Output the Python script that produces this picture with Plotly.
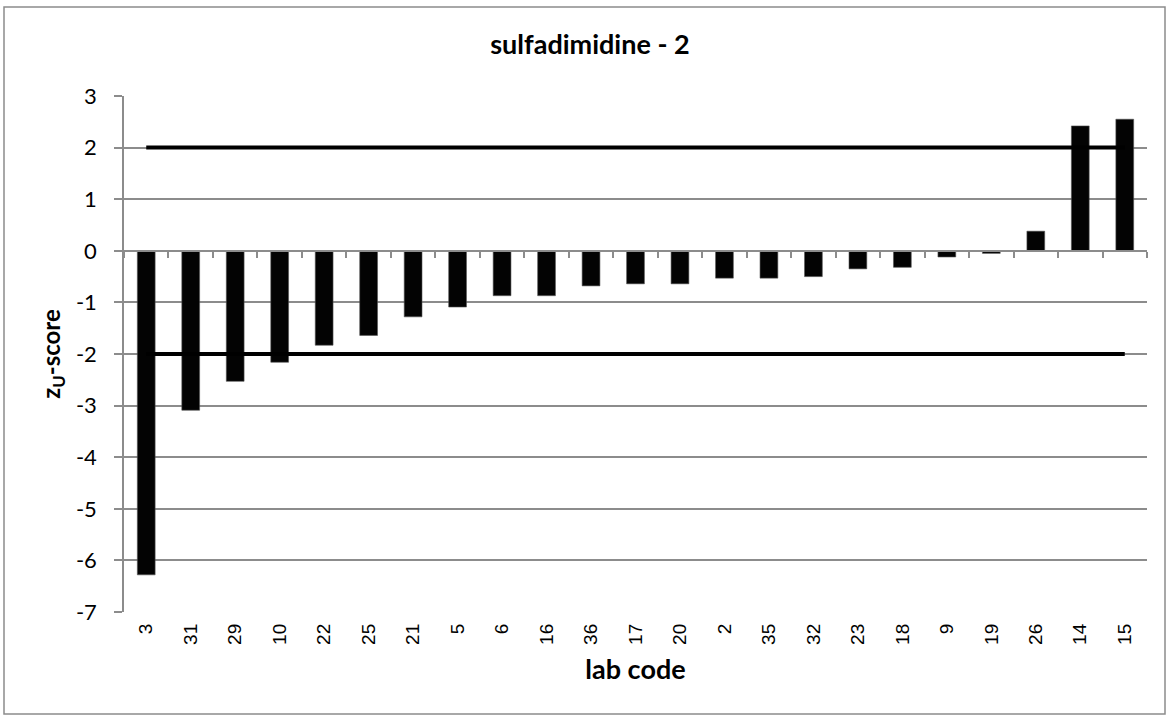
import plotly.graph_objects as go

lab_codes = ["3", "31", "29", "10", "22", "25", "21", "5", "6", "16", "36", "17",
             "20", "2", "35", "32", "23", "18", "9", "19", "26", "14", "15"]
z_scores = [-6.28, -3.09, -2.53, -2.16, -1.83, -1.64, -1.28, -1.09, -0.87, -0.87,
            -0.68, -0.64, -0.64, -0.53, -0.53, -0.50, -0.35, -0.32, -0.12, -0.05,
            0.38, 2.42, 2.55]
upper_limit = [2, 2]
lower_limit = [-2, -2]
y_ticks = [3, 2, 1, 0, -1, -2, -3, -4, -5, -6, -7]
y_tick_text = [str(v) for v in y_ticks]

GRID = "#8c8c8c"
FONT = "Lato"

fig = go.Figure()
fig.add_trace(go.Bar(x=lab_codes, y=z_scores,
                     marker=dict(color="#030303", line=dict(width=0.6, color="#555555")),
                     width=0.4, showlegend=False))
for lim in (upper_limit, lower_limit):
    fig.add_trace(go.Scatter(x=[lab_codes[0], lab_codes[-1]], y=lim, mode="lines",
                             line=dict(color="#000000", width=4), showlegend=False))
# invisible trace to activate the zero-crossing axis
fig.add_trace(go.Scatter(x=lab_codes, y=[0] * len(lab_codes), xaxis="x2", mode="markers",
                         marker=dict(opacity=0), showlegend=False, hoverinfo="skip"))

W, H = 1170, 719
L, R, T, B = 124, 23, 96, 107
pw, ph = W - L - R, H - T - B

fig.update_layout(
    width=W, height=H,
    margin=dict(l=L, r=R, t=T, b=B),
    paper_bgcolor="white", plot_bgcolor="white",
    title=dict(text="<b>sulfadimidine - 2</b>", x=590 / W, xref="container", xanchor="center",
               y=1 - 45 / H, yref="container", yanchor="middle",
               font=dict(family=FONT, size=27, color="#000000")),
    xaxis=dict(type="category", range=[-0.5, len(lab_codes) - 0.5], showgrid=False,
               showline=False, ticks="", tickangle=-90,
               tickfont=dict(family="Liberation Sans", size=19, color="#000000"),
               ticklabelstandoff=7,
               title=dict(text="<b>lab code</b>", font=dict(family=FONT, size=27, color="#000000"),
                          standoff=16)),
    xaxis2=dict(type="category", overlaying="x", matches="x", anchor="free", position=0.7,
                side="bottom", showline=True, linecolor=GRID, linewidth=1.5, ticks="outside",
                ticklen=6, tickcolor=GRID, tickwidth=1.5, tickson="boundaries",
                showticklabels=False, showgrid=False),
    yaxis=dict(range=[-7, 3], tickvals=y_ticks, ticktext=y_tick_text, showgrid=True,
               gridcolor=GRID, gridwidth=1.5, zeroline=False, showline=True, linecolor=GRID,
               linewidth=1.5, ticks="outside", ticklen=8, tickcolor=GRID, tickwidth=1.5,
               tickfont=dict(family=FONT, size=22, color="#000000"), ticklabelstandoff=13,
               title=dict(text="<b>z<sub>U</sub>-score</b>",
                          font=dict(family=FONT, size=24, color="#000000"), standoff=9)),
)

# outer chart border
fig.add_shape(type="rect", xref="paper", yref="paper",
              x0=(4 - L) / pw, x1=(1165 - L) / pw, y0=(H - B - 714) / ph, y1=(H - B - 7) / ph,
              line=dict(color="#8c8c8c", width=1.5), fillcolor="rgba(0,0,0,0)", layer="below")

fig.write_html("out.html", config={"displayModeBar": False},
               post_script="document.body.style.margin='0';")
